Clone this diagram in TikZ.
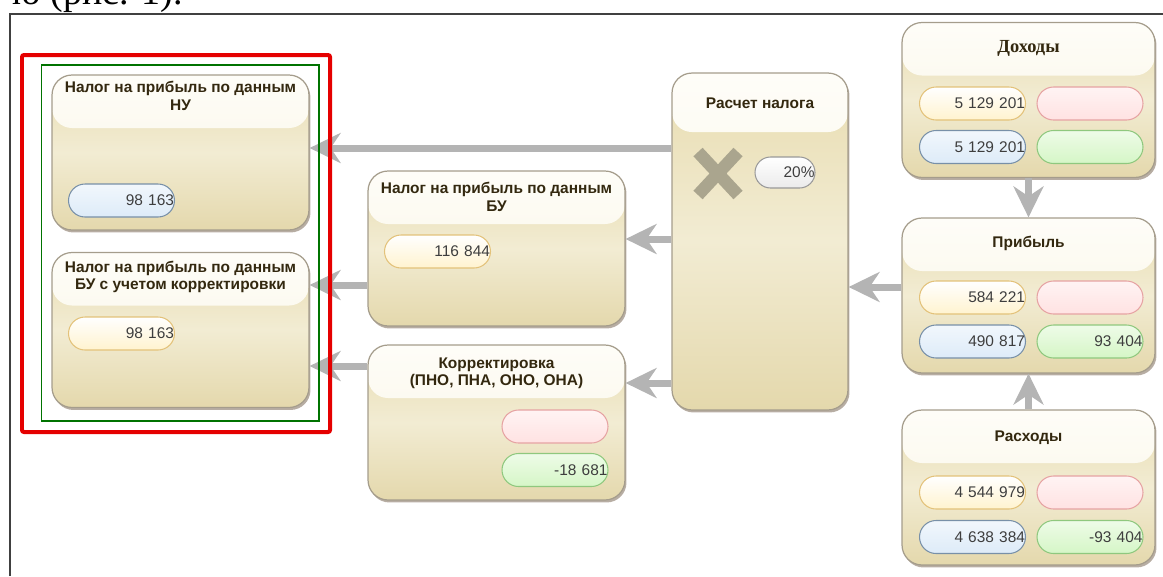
\documentclass[tikz,border=0pt]{standalone}
\usepackage{fontspec}
\setmainfont{Liberation Sans}
\newfontfamily\docserif{Liberation Serif}
\usetikzlibrary{shadows,arrows.meta}

\definecolor{bodytop}{HTML}{E8DCB0}
\definecolor{bodymid}{HTML}{F2ECD3}
\definecolor{bodybot}{HTML}{E4D8AC}
\definecolor{headtop}{HTML}{FEFDF8}
\definecolor{headbot}{HTML}{F9F4E2}
\definecolor{boxline}{HTML}{A59D8C}
\definecolor{titletext}{HTML}{33280F}
\definecolor{valtext}{HTML}{3E3E3E}
\definecolor{flowgray}{HTML}{B4B4B4}
\definecolor{crossgray}{HTML}{AAA58E}
\definecolor{ylwline}{HTML}{E3C27A}
\definecolor{ylwfill}{HTML}{FFF3CF}
\definecolor{pnkline}{HTML}{E6A3A3}
\definecolor{pnkfill}{HTML}{FFE2E2}
\definecolor{bluline}{HTML}{7890A8}
\definecolor{blufill}{HTML}{DDEBF8}
\definecolor{grnline}{HTML}{8FC87E}
\definecolor{grnfill}{HTML}{D5F6C6}

\def\headh{1.06cm}

\begin{document}
\begin{tikzpicture}[x=0.02cm,y=-0.02cm]
  \tikzstyle{block}=[rounded corners=0.4cm, draw=boxline, line width=0.7pt, minimum width=5.14cm, minimum height=3.1cm,
    top color=bodytop, bottom color=bodybot, middle color=bodymid,
    drop shadow={shadow xshift=0.03cm, shadow yshift=-0.05cm, fill=black!60!brown, opacity=0.4},
    path picture={\shade[top color=headtop, bottom color=headbot] (path picture bounding box.north west) rectangle ([yshift=-\headh]path picture bounding box.north east);}]
  \tikzstyle{title}=[inner sep=0pt, align=center, text=titletext, font=\bfseries\fontsize{8.8}{9.8}\selectfont]
  \tikzstyle{pill}=[rounded corners=0.33cm, minimum width=2.12cm, minimum height=0.66cm, text width=2.1cm, align=right,
    inner xsep=0.01cm, inner ysep=0pt, line width=0.6pt, text=valtext, font=\fontsize{8.8}{10}\selectfont]
  \tikzstyle{ylw}=[draw=ylwline, top color=white, bottom color=ylwfill]
  \tikzstyle{pnk}=[draw=pnkline, top color=pnkfill!40, bottom color=pnkfill]
  \tikzstyle{blu}=[draw=bluline, top color=blufill!40, bottom color=blufill]
  \tikzstyle{grn}=[draw=grnline, top color=grnfill!40, bottom color=grnfill]
  \tikzstyle{flow}=[draw=flowgray, line width=0.14cm, -{Stealth[length=0.62cm, width=0.6cm, inset=0.2cm]}]

  \useasboundingbox (0,0) rectangle (1163,576);

  % text of the page, cut by the top edge
  \node[anchor=base east, inner sep=0pt, font=\docserif\fontsize{21.6}{26}\selectfont] (cap) at (183,4) {ю (рис. 1).};
  \draw[black!75, line width=0.6pt] (10,576) -- (10,14) -- (1163,14);

  % boxes
  \node[block] (nu) at (180.5,152.5) {};
  \node[block] (nukorr) at (180.5,330) {};
  \node[block] (bu) at (496.5,248.5) {};
  \node[block] (korr) at (496.5,422.5) {};
  \def\headh{1.18cm}
  \node[block, minimum width=3.52cm, minimum height=6.74cm] (calc) at (760,241.5) {};
  \def\headh{1.06cm}
  \node[block, minimum width=5.06cm] (inc) at (1028.5,100) {};
  \node[block, minimum width=5.06cm] (prof) at (1028.5,295.5) {};
  \node[block, minimum width=5.06cm] (exp) at (1028.5,487.5) {};

  % titles
  \node[title] (nuT) at (180.5,96) {Налог на прибыль по данным\\НУ};
  \node[title] (nukorrT) at (180.5,277) {Налог на прибыль по данным\\БУ с учетом корректировки};
  \node[title] (buT) at (496.5,197) {Налог на прибыль по данным\\БУ};
  \node[title] (korrT) at (496.5,373) {Корректировка\\(ПНО, ПНА, ОНО, ОНА)};
  \node[title] (calcT) at (760,103) {Расчет налога};
  \node[title, font=\docserif\bfseries\fontsize{10.5}{12}\selectfont] (incT) at (1028.5,48) {Доходы};
  \node[title] (profT) at (1028.5,243) {Прибыль};
  \node[title] (expT) at (1028.5,438) {Расходы};

  % values
  \node[pill, blu] (nuV) at (121.5,200.5) {98 163};
  \node[pill, ylw] (nukorrV) at (121.5,333.5) {98 163};
  \node[pill, ylw] (buV) at (437.5,251.5) {116 844};
  \node[pill, pnk] (korrA) at (555,426.5) {};
  \node[pill, grn] (korrB) at (555,470) {-18 681};
  \node[pill, draw=black!40, top color=white, bottom color=black!8, minimum width=1.2cm, minimum height=0.62cm,
    text width=1.18cm, rounded corners=0.31cm] (rate) at (785,172.5) {20\%};
  \draw[crossgray, line width=0.25cm] (698,152) -- (738,195) (738,152) -- (698,195);

  \node[pill, ylw] (incA) at (972.5,103.5) {5 129 201};
  \node[pill, pnk] (incB) at (1090,103.5) {};
  \node[pill, blu] (incC) at (972.5,147) {5 129 201};
  \node[pill, grn] (incD) at (1090,147) {};

  \node[pill, ylw] (profA) at (972.5,297.5) {584 221};
  \node[pill, pnk] (profB) at (1090,297.5) {};
  \node[pill, blu] (profC) at (972.5,341.5) {490 817};
  \node[pill, grn] (profD) at (1090,341.5) {93 404};

  \node[pill, ylw] (expA) at (972.5,492.5) {4 544 979};
  \node[pill, pnk] (expB) at (1090,492.5) {};
  \node[pill, blu] (expC) at (972.5,537) {4 638 384};
  \node[pill, grn] (expD) at (1090,537) {-93 404};

  % flows
  \draw[flow] (inc.south) -- (prof.north);
  \draw[flow] (exp.north) -- (prof.south);
  \draw[flow] (prof.west |- 0,287) -- (calc.east |- 0,287);
  \draw[flow] (calc.west |- 0,148) -- (nu.east |- 0,148);
  \draw[flow] (calc.west |- 0,239) -- (bu.east |- 0,239);
  \draw[flow] (calc.west |- 0,383) -- (korr.east |- 0,383);
  \draw[flow] (bu.west |- 0,285) -- (nukorr.east |- 0,285);
  \draw[flow] (korr.west |- 0,366) -- (nukorr.east |- 0,366);

  % frames
  \draw[green!45!black, line width=0.6pt] (41.5,65) rectangle (319,421);
  \draw[red!90!black, line width=0.08cm, rounded corners=0.04cm] (22,55) rectangle (330,432);
\end{tikzpicture}
\end{document}
